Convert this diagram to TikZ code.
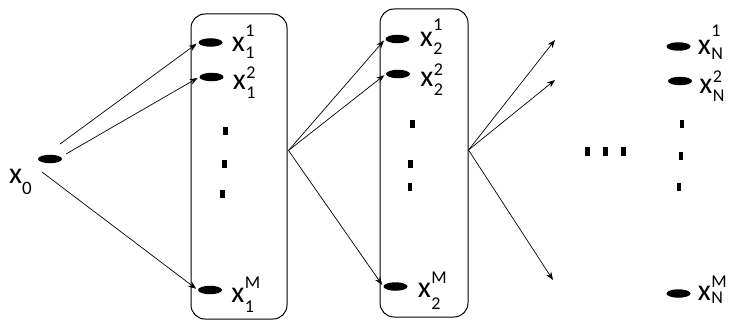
\documentclass[tikz,border=0pt]{standalone}
\usepackage{fontspec}
\setmainfont{Carlito}
\usetikzlibrary{shapes.geometric,arrows.meta,calc}

% state label: x with stacked superscript and subscript
% #1 raise of the superscript, #2 drop of the subscript
\newcommand\scr{\fontsize{18}{18}\selectfont}
\newcommand\xsym[4]{x\kern0.5pt\rlap{\raisebox{#1}{\scr #3}}\raisebox{-#2}{\scr #4}}

\tikzset{
  state/.style={ellipse, fill=black, inner sep=0pt, minimum width=24pt, minimum height=8.5pt},
  tick/.style={fill=black, inner sep=0pt, minimum width=4.5pt, minimum height=8pt},
  group/.style={draw, line width=1pt, rounded corners=14pt, inner sep=0pt},
  lab/.style={anchor=base west, inner sep=0pt, font=\fontsize{30}{30}\selectfont},
  arr/.style={line width=0.7pt, -{Stealth[length=8pt,width=6pt]}, shorten >=2pt},
}

\begin{document}
\begin{tikzpicture}[x=1pt, y=-1pt]
\useasboundingbox (0,0) rectangle (735,321);

% initial state
\node[state] (x0) at (50,159) {};
\node[lab] (lx0) at (9,183) {x\raisebox{-11pt}{\fontsize{19}{19}\selectfont 0}};

% stage groups
\node[group, minimum width=96pt, minimum height=305pt] (b1) at (239,166.5) {};
\node[group, minimum width=88pt, minimum height=308pt] (b2) at (424,163) {};

% stage 1
\node[state] (d11) at (210.5,42.5) {};
\node[state] (d12) at (211.5,77) {};
\node[state] (d1M) at (210,290) {};
\node[tick] (v11) at (225.5,131) {};
\node[tick] (v12) at (224.5,164) {};
\node[tick] (v13) at (222.5,194) {};
\node[lab] (l11) at ($(d11.east)+(9,9.5)$) {\xsym{15pt}{7pt}{1}{1}};
\node[lab] (l12) at ($(d12.east)+(9,12)$) {\xsym{11pt}{9pt}{2}{1}};
\node[lab] (l1M) at ($(d1M.east)+(9,12)$) {\xsym{14pt}{10pt}{M}{1}};

% stage 2
\node[state] (d21) at (397.5,39) {};
\node[state] (d22) at (398,74) {};
\node[state] (d2M) at (395.5,286.5) {};
\node[tick] (v21) at (412.5,124) {};
\node[tick] (v22) at (410.5,164) {};
\node[tick] (v23) at (410,187) {};
\node[lab] (l21) at ($(d21.east)+(10,8)$) {\xsym{16pt}{7pt}{1}{2}};
\node[lab] (l22) at ($(d22.east)+(10,12)$) {\xsym{11pt}{9pt}{2}{2}};
\node[lab] (l2M) at ($(d2M.east)+(10,10.5)$) {\xsym{14pt}{12pt}{M}{2}};

% stage N
\node[state] (dN1) at (678.5,46.5) {};
\node[state] (dN2) at (680,81) {};
\node[state] (dNM) at (678.5,293.5) {};
\node[tick] (vN1) at (682,124) {};
\node[tick] (vN2) at (681,156) {};
\node[tick] (vN3) at (679,187) {};
\node[lab] (lN1) at ($(dN1.east)+(7,8.5)$) {\xsym{18pt}{5pt}{1}{N}};
\node[lab] (lN2) at ($(dN2.east)+(7,12)$) {\xsym{11pt}{8pt}{2}{N}};
\node[lab] (lNM) at ($(dNM.east)+(7,7)$) {\xsym{13pt}{3pt}{M}{N}};

% intermediate stages
\node[tick, minimum height=9pt] (h1) at (587.5,151) {};
\node[tick, minimum height=9pt] (h2) at (605.5,151) {};
\node[tick, minimum height=9pt] (h3) at (623.5,151) {};

% transitions
\coordinate (t1) at ($(x0)+(10,-15)$);
\coordinate (t2) at ($(x0)+(16,-5)$);
\coordinate (t3) at ($(x0)+(-8,13)$);
\coordinate (f1) at ($(b1.east)+(1,-16)$);
\coordinate (f2) at ($(b2.east)+(0,-13)$);
\coordinate (e1) at (555,40);
\coordinate (e2) at (555,80);
\coordinate (e3) at (553,280);

\draw[arr] (t1) -- (d11.west);
\draw[arr] (t2) -- (d12.west);
\draw[arr] (t3) -- (d1M.west);
\draw[arr] (f1) -- (d21.west);
\draw[arr] (f1) -- (d22.west);
\draw[arr] (f1) -- (d2M.west);
\draw[arr, shorten >=0pt] (f2) -- (e1);
\draw[arr, shorten >=0pt] (f2) -- (e2);
\draw[arr, shorten >=0pt] (f2) -- (e3);
\end{tikzpicture}
\end{document}
